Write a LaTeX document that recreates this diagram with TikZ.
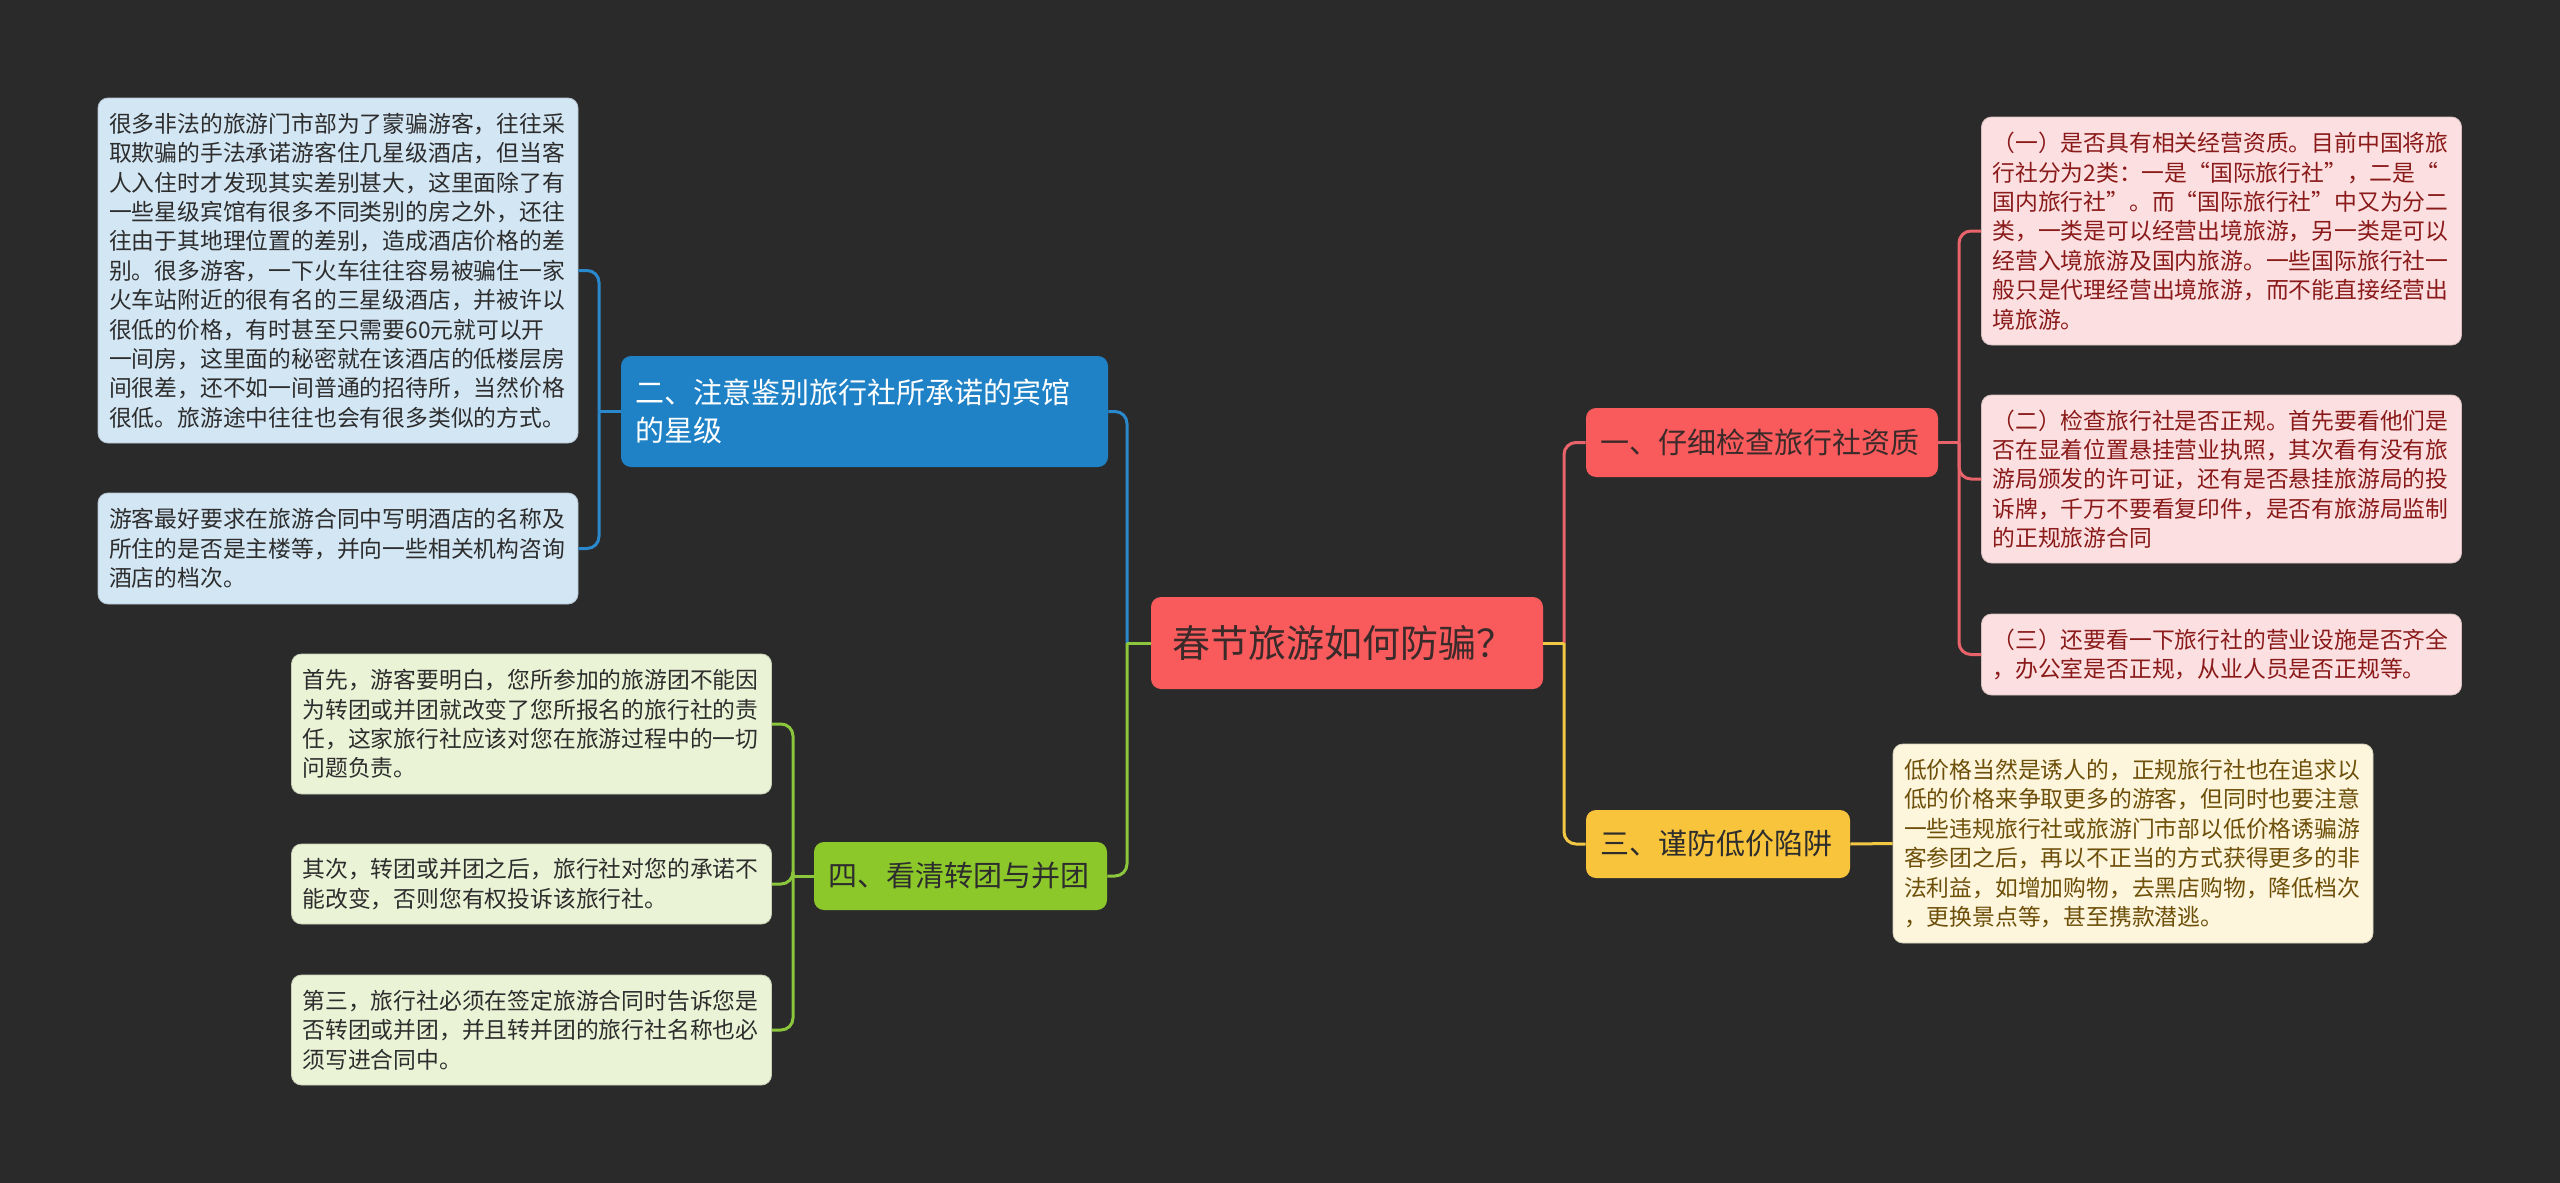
\documentclass[tikz,border=0pt]{standalone}
\usepackage{fontspec}
\setmainfont{Noto Sans CJK SC}
\definecolor{bg}{HTML}{2A2A2A}
\definecolor{rootc}{HTML}{F95A5C}
\definecolor{yelc}{HTML}{F7C43C}
\definecolor{bluec}{HTML}{1F82C6}
\definecolor{greenc}{HTML}{8DC82B}
\definecolor{lblueF}{HTML}{D3E6F4}
\definecolor{lgreenF}{HTML}{EBF3D6}
\definecolor{lredF}{HTML}{FCE0E1}
\definecolor{lyelF}{HTML}{FDF6DC}
\definecolor{tred}{HTML}{8A1A1A}
\definecolor{tyel}{HTML}{6E4F0A}
\definecolor{tdark}{HTML}{2D2D2D}
\definecolor{troot}{HTML}{3B2A2A}
\definecolor{linered}{HTML}{E8646A}
\definecolor{lineyel}{HTML}{F2C744}
\definecolor{lineblue}{HTML}{2A88CC}
\definecolor{linegreen}{HTML}{8CC63C}
\begin{document}
\begin{tikzpicture}[x=0.5pt,y=-0.5pt,
  box/.style={rounded corners=5pt, inner ysep=0pt, align=left, anchor=center},
  rootbox/.style={box, fill=rootc, text=troot, font=\fontsize{19pt}{23pt}\selectfont,
    inner xsep=10.5pt, text width=175pt, minimum width=196pt, minimum height=46pt},
  mainbox/.style={box, font=\fontsize{14.5pt}{18.75pt}\selectfont, inner xsep=7pt},
  leaf/.style={box, font=\fontsize{11.4pt}{14.7pt}\selectfont, inner xsep=5.5pt,
    text width=229pt, minimum width=240pt},
  leafblue/.style={leaf, fill=lblueF, draw=lblueF!85!black, line width=0.4pt, text=tdark},
  leafgreen/.style={leaf, fill=lgreenF, draw=lgreenF!85!black, line width=0.4pt, text=tdark},
  leafred/.style={leaf, fill=lredF, draw=lredF!85!black, line width=0.4pt, text=tred},
  leafyel/.style={leaf, fill=lyelF, draw=lyelF!85!black, line width=0.4pt, text=tyel},
  conn/.style={line width=1.5pt},
  rc/.style={rounded corners=6pt},
  cred/.style={conn, draw=linered},
  cyel/.style={conn, draw=lineyel},
  cblue/.style={conn, draw=lineblue},
  cgreen/.style={conn, draw=linegreen}]
\fill[bg] (0,0) rectangle (2560,1183);
\useasboundingbox (0,0) rectangle (2560,1183);

% root
\node[rootbox] (root) at (1347,643) {春节旅游如何防骗？};

% main branches
\node[mainbox, fill=rootc, text=troot, text width=162pt, minimum width=176pt, minimum height=34.5pt]
  (b1) at (1762,442.5) {一、仔细检查旅行社资质};
\node[mainbox, fill=yelc, text=tdark, text width=118pt, minimum width=132pt, minimum height=34pt]
  (b3) at (1718,844) {三、谨防低价陷阱};
\node[mainbox, fill=bluec, text=white, text width=229.5pt, minimum width=243.5pt, minimum height=55.5pt]
  (b2) at (864.5,411.5) {二、注意鉴别旅行社所承诺的宾馆\\的星级};
\node[mainbox, fill=greenc, text=tdark, text width=132.5pt, minimum width=146.5pt, minimum height=34pt]
  (b4) at (960.5,876) {四、看清转团与并团};

% blue leaves
\node[leafblue, minimum height=172.5pt] (L2a) at (338,270.5)
 {很多非法的旅游门市部为了蒙骗游客，往往采\\取欺骗的手法承诺游客住几星级酒店，但当客\\人入住时才发现其实差别甚大，这里面除了有\\一些星级宾馆有很多不同类别的房之外，还往\\往由于其地理位置的差别，造成酒店价格的差\\别。很多游客，一下火车往往容易被骗住一家\\火车站附近的很有名的三星级酒店，并被许以\\很低的价格，有时甚至只需要60元就可以开\\一间房，这里面的秘密就在该酒店的低楼层房\\间很差，还不如一间普通的招待所，当然价格\\很低。旅游途中往往也会有很多类似的方式。};
\node[leafblue, minimum height=55.5pt] (L2b) at (338,548.5)
 {游客最好要求在旅游合同中写明酒店的名称及\\所住的是否是主楼等，并向一些相关机构咨询\\酒店的档次。};

% green leaves
\node[leafgreen, minimum height=70pt] (L4a) at (531.5,724)
 {首先，游客要明白，您所参加的旅游团不能因\\为转团或并团就改变了您所报名的旅行社的责\\任，这家旅行社应该对您在旅游过程中的一切\\问题负责。};
\node[leafgreen, minimum height=40pt] (L4b) at (531.5,884)
 {其次，转团或并团之后，旅行社对您的承诺不\\能改变，否则您有权投诉该旅行社。};
\node[leafgreen, minimum height=55pt] (L4c) at (531.5,1030)
 {第三，旅行社必须在签定旅游合同时告诉您是\\否转团或并团，并且转并团的旅行社名称也必\\须写进合同中。};

% red leaves
\node[leafred, minimum height=114pt] (L1a) at (2221.5,231)
 {（一）是否具有相关经营资质。目前中国将旅\\行社分为2类：一是“国际旅行社”，二是“\\国内旅行社”。而“国际旅行社”中又为分二\\类，一类是可以经营出境旅游，另一类是可以\\经营入境旅游及国内旅游。一些国际旅行社一\\般只是代理经营出境旅游，而不能直接经营出\\境旅游。};
\node[leafred, minimum height=84pt] (L1b) at (2221.5,479)
 {（二）检查旅行社是否正规。首先要看他们是\\否在显着位置悬挂营业执照，其次看有没有旅\\游局颁发的许可证，还有是否悬挂旅游局的投\\诉牌，千万不要看复印件，是否有旅游局监制\\的正规旅游合同};
\node[leafred, minimum height=40.5pt] (L1c) at (2221.5,654.5)
 {（三）还要看一下旅行社的营业设施是否齐全\\，办公室是否正规，从业人员是否正规等。};

% yellow leaf
\node[leafyel, minimum height=99.5pt] (L3a) at (2133,843.5)
 {低价格当然是诱人的，正规旅行社也在追求以\\低的价格来争取更多的游客，但同时也要注意\\一些违规旅行社或旅游门市部以低价格诱骗游\\客参团之后，再以不正当的方式获得更多的非\\法利益，如增加购物，去黑店购物，降低档次\\，更换景点等，甚至携款潜逃。};

% junctions
\coordinate (jR) at (1564,643);
\coordinate (jL) at (1127,643);
\coordinate (j1) at (1959,442.5);
\coordinate (j2) at (599,411.5);
\coordinate (j4) at (793,876);

% root connectors
\draw[cred] (root.east) -- (jR);
\draw[cred, rc] (jR) |- (b1.west);
\draw[cyel] (root.east) -- (jR);
\draw[cyel, rc] (jR) |- (b3.west);
\draw[cblue] (root.west) -- (jL);
\draw[cblue, rc] (jL) |- (b2.east);
\draw[cgreen] (root.west) -- (jL);
\draw[cgreen, rc] (jL) |- (b4.east);

% branch 1
\draw[cred] (b1.east) -- (j1);
\draw[cred, rc] (j1) |- (L1a.west);
\draw[cred, rc] (j1) |- (L1b.west);
\draw[cred, rc] (j1) |- (L1c.west);
% branch 3
\draw[cyel] (b3.east) -- (L3a.west);
% branch 2
\draw[cblue] (b2.west) -- (j2);
\draw[cblue, rc] (j2) |- (L2a.east);
\draw[cblue, rc] (j2) |- (L2b.east);
% branch 4
\draw[cgreen] (b4.west) -- (j4);
\draw[cgreen, rc] (j4) |- (L4a.east);
\draw[cgreen, rc] (j4) |- (L4b.east);
\draw[cgreen, rc] (j4) |- (L4c.east);
\end{tikzpicture}
\end{document}
